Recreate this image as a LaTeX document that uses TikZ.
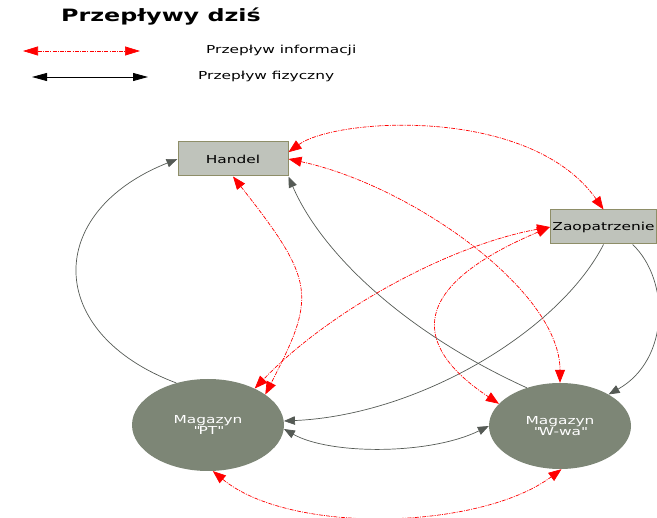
\documentclass[tikz,border=0pt]{standalone}
\usepackage{fontspec}
\setmainfont{DejaVu Sans}[FakeStretch=1.4]
\usetikzlibrary{arrows.meta,shapes.geometric}
\definecolor{boxfill}{HTML}{BFC3BB}
\definecolor{boxline}{HTML}{8E8E68}
\definecolor{ellfill}{HTML}{7D8676}
\definecolor{phys}{HTML}{555A55}
\tikzset{
  box/.style={draw=boxline, fill=boxfill, line width=1pt, minimum height=34pt, inner sep=0pt, font=\fontsize{11}{13}\selectfont},
  store/.style={ellipse, fill=ellfill, text=white, inner sep=0pt, align=center, font=\fontsize{11}{11.5}\selectfont},
  info/.style={red, line width=0.7pt, dash pattern=on 4pt off 1.2pt on 1pt off 1.2pt,
    {Triangle[length=13pt,width=10pt]}-{Triangle[length=13pt,width=10pt]}},
  physone/.style={phys, line width=0.7pt, -{Triangle[length=11pt,width=8.5pt]}},
  physboth/.style={phys, line width=0.7pt, {Triangle[length=11pt,width=8.5pt]}-{Triangle[length=11pt,width=8.5pt]}},
  legtext/.style={anchor=west, inner sep=0pt, font=\fontsize{11}{13}\selectfont},
}
\begin{document}
\begin{tikzpicture}[x=1pt,y=-1pt]
\useasboundingbox (0,0) rectangle (657,518);
% title and legend
\node[anchor=west, inner sep=0pt, font=\bfseries\fontsize{17}{20}\selectfont] (title) at (61,17) {Przepływy dziś};
\coordinate (ia) at (23,51);
\coordinate (ib) at (140,51);
\coordinate (pa) at (32,77);
\coordinate (pb) at (148,77);
\draw[info, {Triangle[length=15pt,width=9pt]}-{Triangle[length=15pt,width=9pt]}] (ia) -- (ib);
\draw[black, line width=0.8pt, {Triangle[length=15pt,width=8pt]}-{Triangle[length=15pt,width=8pt]}] (pa) -- (pb);
\node[legtext] (lit) at (206,50) {Przepływ informacji};
\node[legtext] (lpt) at (198,76) {Przepływ fizyczny};
% nodes
\node[box, minimum width=110pt] (handel) at (233,159) {Handel};
\node[box, minimum width=106pt] (zao) at (603.5,227) {Zaopatrzenie};
\node[store, minimum width=152pt, minimum height=92pt] (pt) at (208,425) {Magazyn\\\textquotedbl PT\textquotedbl};
\node[store, minimum width=142pt, minimum height=86pt] (wwa) at (560,426) {Magazyn\\\textquotedbl W-wa\textquotedbl};
% physical flows
\draw[physone] (pt.127) .. controls (44,333) and (44,212) .. (handel.west);
\draw[physone] (wwa.131) .. controls (400,330) and (320,250) .. (handel.south east);
\draw[physone] (zao.south) .. controls (560,330) and (420,415) .. (pt.3);
\draw[physone] (zao.-31) .. controls (670,280) and (670,360) .. (wwa.33);
\draw[physboth] (pt.-3) .. controls (330,455) and (430,455) .. (wwa.west);
% information flows
\draw[info] (handel.7) .. controls (335,118) and (530,105) .. (zao.north);
\draw[info] (handel.east) .. controls (410,185) and (560,290) .. (wwa.north);
\draw[info] (handel.south) .. controls (316,282) and (316,296) .. (pt.28);
\draw[info] (zao.west) .. controls (450,245) and (330,310) .. (pt.38);
\draw[info] (zao.west) .. controls (396,292) and (421,352) .. (wwa.160);
\draw[info] (pt.-84) .. controls (290,535) and (480,530) .. (wwa.-88);
\end{tikzpicture}
\end{document}
